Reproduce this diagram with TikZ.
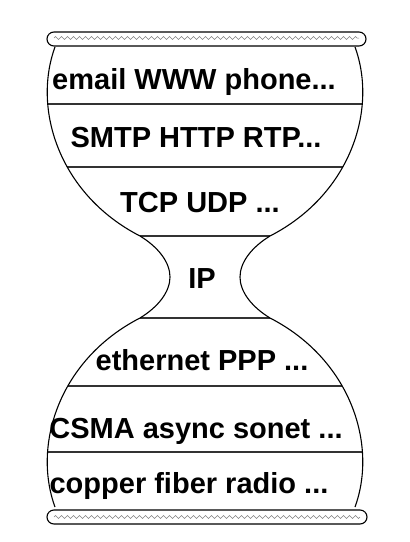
\documentclass[tikz,border=0pt]{standalone}
\usepackage{fontspec}
\setmainfont{Liberation Sans}
\usetikzlibrary{decorations.pathmorphing}
\tikzset{
  layer/.style={font=\fontsize{29}{32}\selectfont\bfseries, anchor=base, inner sep=0pt},
  endcap/.style={draw, fill=white, rounded corners=7pt, line width=1.1pt},
  wiggle/.style={draw=gray, line width=0.5pt, decorate, decoration={zigzag, segment length=6pt, amplitude=1.5pt}}
}
\begin{document}
\begin{tikzpicture}[x=1pt, y=-1pt, line width=1.1pt]
        \useasboundingbox (0,0) rectangle (410,542);
        % \draw[help lines, gray!50, very thin] (0,0) grid[step=20] (410,542);

        \begin{scope}
          \clip (55,47) .. controls (32,110) and (60,195) .. (140,236) .. controls (158,247) and (170,262) .. (170,277)
                .. controls (170,292) and (158,307) .. (140,318) .. controls (60,359) and (32,444) .. (55,507)
                -- (355,507) .. controls (378,444) and (350,359) .. (270,318) .. controls (252,307) and (240,292) .. (240,277)
                .. controls (240,262) and (252,247) .. (270,236) .. controls (350,195) and (378,110) .. (355,47) -- cycle;
          \draw[black!80] (0,104) -- (410,104);
          \draw[black!80] (0,167) -- (410,167);
          \draw[black!80] (0,236) -- (410,236);
          \draw[black!80] (0,318) -- (410,318);
          \draw[black!80] (0,386) -- (410,386);
          \draw[black!80] (0,452) -- (410,452);
        \end{scope}

        % left and right sides
        \draw (55,47) .. controls (32,110) and (60,195) .. (140,236) .. controls (158,247) and (170,262) .. (170,277)
              .. controls (170,292) and (158,307) .. (140,318) .. controls (60,359) and (32,444) .. (55,507);
        \draw (355,47) .. controls (378,110) and (350,195) .. (270,236) .. controls (252,247) and (240,262) .. (240,277)
              .. controls (240,292) and (252,307) .. (270,318) .. controls (350,359) and (378,444) .. (355,507);

        % caps
        \draw[endcap] (47,32) rectangle (366,46);
        \draw[wiggle] (54,38) -- (359,38);
        \draw[endcap] (47,510) rectangle (367,524);
        \draw[wiggle] (54,517) -- (360,517);

        \node[layer] (app) at (194,89) {email WWW phone...};
        \node[layer] (proto) at (196,147) {SMTP HTTP RTP...};
        \node[layer] (trans) at (200,212) {TCP UDP ...};
        \node[layer] (ip) at (202,288) {IP};
        \node[layer] (link) at (202,370) {ethernet PPP ...};
        \node[layer] (mac) at (196,438) {CSMA async sonet ...};
        \node[layer] (phys) at (189,493) {copper fiber radio ...};
      \end{tikzpicture}
\end{document}
